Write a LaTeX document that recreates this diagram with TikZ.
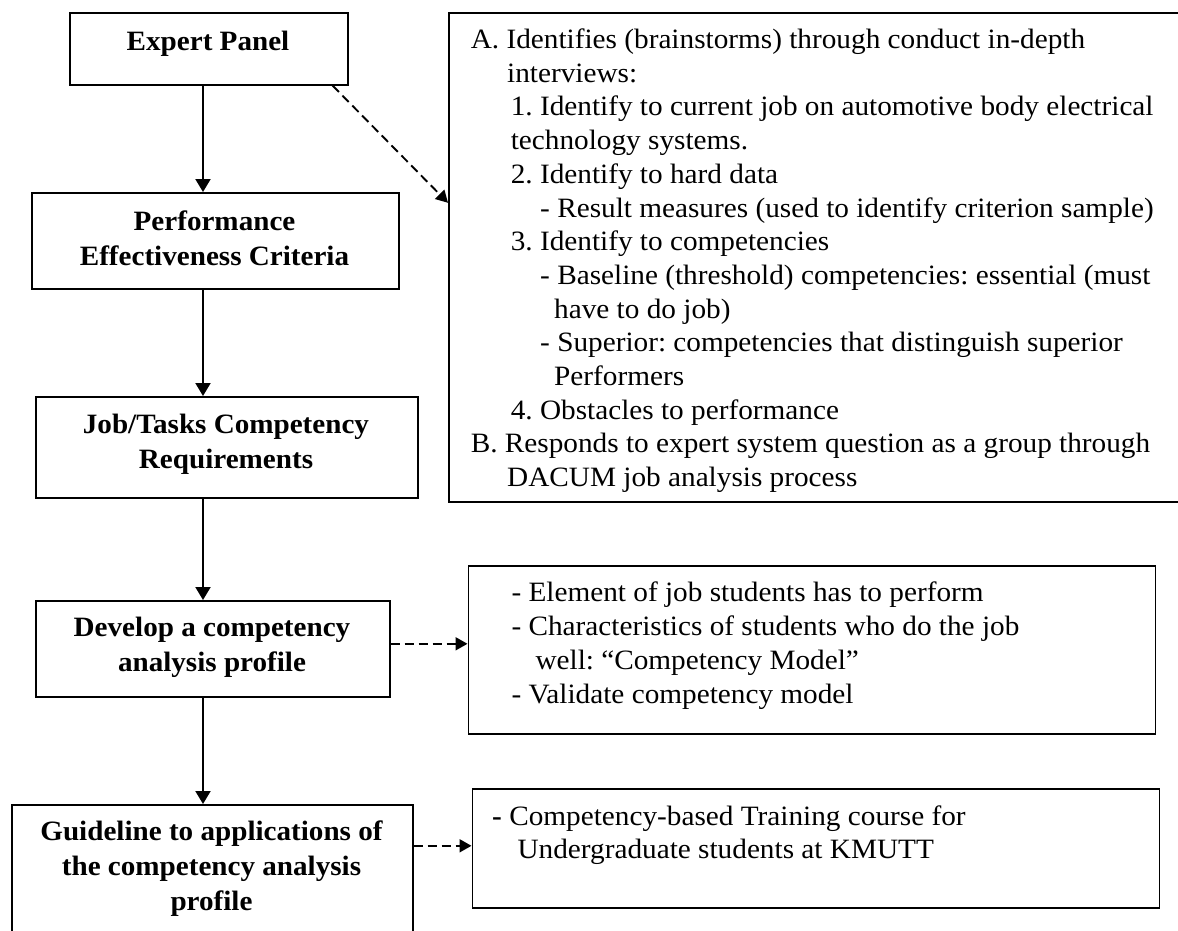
\documentclass[tikz,border=0pt]{standalone}
\usepackage{fontspec}
\setmainfont{Liberation Serif}
\newfontfamily\rfont[FakeStretch=1.045]{Liberation Serif}
\newfontfamily\bfont[FakeStretch=1.04]{Liberation Serif}
\usetikzlibrary{arrows.meta}
\newcommand\fl{\rule{0pt}{22pt}}
\begin{document}
\frenchspacing
\begin{tikzpicture}[x=1pt,y=-1pt,
  box/.style={draw, line width=1.6pt, inner sep=0pt, anchor=north west},
  btext/.style={font=\bfont\bfseries\fontsize{28}{35}\selectfont, align=center, inner sep=0pt, anchor=north},
  rtext/.style={font=\rfont\fontsize{28}{33.7}\selectfont, align=left, inner sep=0pt, anchor=north west},
  arr/.style={line width=2pt, -{Triangle[length=13pt,width=15pt]}},
  darr/.style={line width=1.9pt, dash pattern=on 9pt off 5pt, -{Triangle[length=12pt,width=13pt]}}]
\useasboundingbox (0,0) rectangle (1178,931);
\fill[white] (0,0) rectangle (1178,931);
% left boxes
\node[box, minimum width=278pt, minimum height=72pt] (e1) at (69,12) {};
\node[box, minimum width=367pt, minimum height=96pt] (perf) at (31,192) {};
\node[box, minimum width=382pt, minimum height=101pt] (job) at (35,396) {};
\node[box, minimum width=354pt, minimum height=96pt] (dev) at (35,600) {};
\node[box, minimum width=401pt, minimum height=140pt] (guide) at (11,804) {};
% right boxes
\node[box, minimum width=740pt, minimum height=489pt] (big) at (448,12) {};
\node[box, minimum width=687pt, minimum height=168pt] (elem) at (467.5,565) {};
\node[box, minimum width=687pt, minimum height=119pt] (comp) at (471.5,788) {};
% left texts
\node[btext] (t1) at (208,28) {\fl Expert Panel};
\node[btext] (t2) at (214.5,208) {\fl Performance\\Effectiveness Criteria};
\node[btext] (t3) at (226,411.3) {\fl Job/Tasks Competency\\Requirements};
\node[btext] (t4) at (212,614.7) {\fl Develop a competency\\analysis profile};
\node[btext] (t5) at (211.5,818) {\fl Guideline to applications of\\the competency analysis\\profile};
% right texts
\node[rtext] (tb) at (470.6,26.3) {\fl A. Identifies (brainstorms) through conduct in-depth\\
\hspace*{36.4pt}interviews:\\
\hspace*{40pt}1. Identify to current job on automotive body electrical\\
\hspace*{40pt}technology systems.\\
\hspace*{40pt}2. Identify to hard data\\
\hspace*{69.4pt}- Result measures (used to identify criterion sample)\\
\hspace*{40pt}3. Identify to competencies\\
\hspace*{69.4pt}- Baseline (threshold) competencies: essential (must\\
\hspace*{83.4pt}have to do job)\\
\hspace*{69.4pt}- Superior: competencies that distinguish superior\\
\hspace*{83.4pt}Performers\\
\hspace*{40pt}4. Obstacles to performance\\
B. Responds to expert system question as a group through\\
\hspace*{36.4pt}DACUM job analysis process};
\node[rtext] (te) at (511.3,579.7) {\fl - Element of job students has to perform\\
- Characteristics of students who do the job\\
\hspace*{24pt}well: “Competency Model”\\
- Validate competency model};
\node[rtext, font=\rfont\fontsize{28}{33.3}\selectfont] (tc) at (492,803) {\fl \textbf{-} Competency-based Training course for\\
\hspace*{25.4pt}Undergraduate students at KMUTT};
% connectors
\coordinate (ax) at (203,0);
\draw[arr] (e1.south -| ax) -- (perf.north -| ax);
\draw[arr] (perf.south -| ax) -- (job.north -| ax);
\draw[arr] (job.south -| ax) -- (dev.north -| ax);
\draw[arr] (dev.south -| ax) -- (guide.north -| ax);
\draw[darr] ([xshift=-16pt]e1.south east) -- ([yshift=54.5pt]big.west);
\coordinate (h1) at ([yshift=5pt]dev.east);
\draw[darr] (h1) -- (h1 -| elem.west);
\coordinate (h2) at ([yshift=2.5pt]comp.west);
\draw[darr] (h2 -| guide.east) -- (h2);
\end{tikzpicture}
\end{document}
